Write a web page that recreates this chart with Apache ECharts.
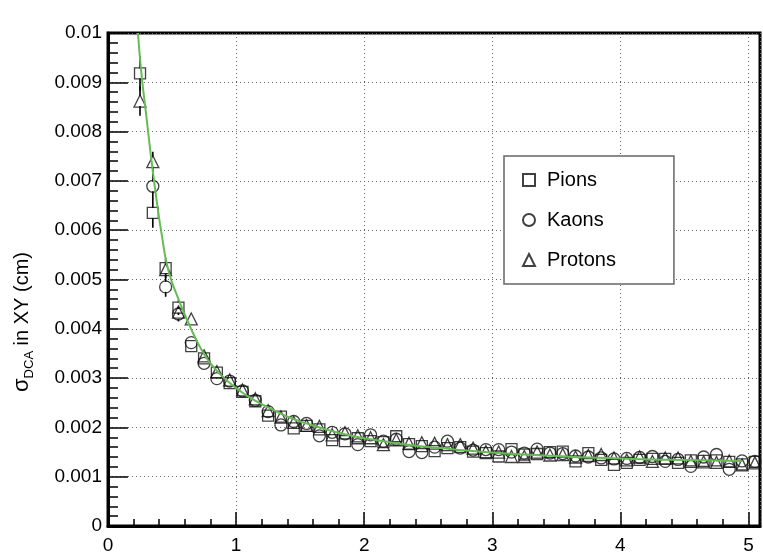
<!DOCTYPE html>
<html>
<head>
<meta charset="utf-8">
<script src="https://cdn.jsdelivr.net/npm/echarts@6/dist/echarts.min.js"></script>
<style>
  html, body { margin: 0; padding: 0; background: #fff; }
  #chart { width: 763px; height: 555px; }
</style>
</head>
<body>
<div id="chart"></div>
<script>
// momentum bins (GeV/c)
const pBins = [0.25, 0.35, 0.45, 0.55, 0.65, 0.75, 0.85, 0.95, 1.05, 1.15,
  1.25, 1.35, 1.45, 1.55, 1.65, 1.75, 1.85, 1.95, 2.05, 2.15,
  2.25, 2.35, 2.45, 2.55, 2.65, 2.75, 2.85, 2.95, 3.05, 3.15,
  3.25, 3.35, 3.45, 3.55, 3.65, 3.75, 3.85, 3.95, 4.05, 4.15,
  4.25, 4.35, 4.45, 4.55, 4.65, 4.75, 4.85, 4.95, 5.05];

const pions = [0.00918, 0.00635, 0.00523, 0.00443, 0.00365, 0.00340, 0.00311, 0.00290, 0.00272, 0.00253,
  0.00224, 0.00222, 0.00198, 0.00203, 0.00196, 0.00174, 0.00172, 0.00178, 0.00172, 0.00170,
  0.00182, 0.00166, 0.00162, 0.00152, 0.00158, 0.00160, 0.00151, 0.00148, 0.00141, 0.00156,
  0.00145, 0.00146, 0.00150, 0.00151, 0.00131, 0.00148, 0.00134, 0.00124, 0.00128, 0.00134,
  0.00136, 0.00136, 0.00128, 0.00133, 0.00132, 0.00133, 0.00130, 0.00125, 0.00130];

const kaons = [null, 0.00689, 0.00485, 0.00430, 0.00372, 0.00330, 0.00299, 0.00294, 0.00274, 0.00255,
  0.00232, 0.00205, 0.00212, 0.00208, 0.00183, 0.00190, 0.00187, 0.00165, 0.00185, 0.00172,
  0.00176, 0.00151, 0.00149, 0.00160, 0.00172, 0.00158, 0.00154, 0.00155, 0.00155, 0.00150,
  0.00148, 0.00156, 0.00148, 0.00147, 0.00142, 0.00140, 0.00138, 0.00136, 0.00137, 0.00139,
  0.00141, 0.00131, 0.00135, 0.00121, 0.00140, 0.00145, 0.00115, 0.00132, 0.00131];

const protons = [0.00862, 0.00739, 0.00520, 0.00434, 0.00420, 0.00345, 0.00313, 0.00296, 0.00276, 0.00258,
  0.00234, 0.00221, 0.00210, 0.00204, 0.00202, 0.00185, 0.00189, 0.00183, 0.00179, 0.00165,
  0.00175, 0.00168, 0.00169, 0.00168, 0.00165, 0.00165, 0.00158, 0.00151, 0.00150, 0.00141,
  0.00141, 0.00150, 0.00144, 0.00145, 0.00140, 0.00143, 0.00145, 0.00138, 0.00134, 0.00140,
  0.00131, 0.00138, 0.00138, 0.00131, 0.00130, 0.00129, 0.00132, 0.00124, 0.00128];

// errors only visible for the first bins
const pionErr = [0.00035, 0.0003, 0.0002, 0.00015, 0.0001];
const kaonErr = [0, 0.00025, 0.0002, 0.00015, 0.0001];
const protonErr = [0.0003, 0.0002, 0.00015, 0.0001];

// fit curve
const fitX = [0.234, 0.26, 0.30, 0.34, 0.38, 0.42, 0.47, 0.55, 0.64, 0.72, 0.80, 0.90, 1.00, 1.10, 1.20,
  1.30, 1.40, 1.50, 1.60, 1.70, 1.80, 1.90, 2.00, 2.20, 2.40, 2.60, 2.80, 3.00, 3.25, 3.50,
  3.75, 4.00, 4.25, 4.50, 4.75, 4.95];
const fitY = [0.0100, 0.0092, 0.0083, 0.0074, 0.0066, 0.0059, 0.0052, 0.0046, 0.00405, 0.00362, 0.00330, 0.00302, 0.00280, 0.00262, 0.00247,
  0.00234, 0.00222, 0.00212, 0.00204, 0.00196, 0.00189, 0.00183, 0.00178, 0.00170, 0.00163, 0.00158, 0.00153, 0.00149, 0.00145, 0.00142,
  0.00139, 0.00137, 0.00135, 0.00134, 0.00133, 0.00132];

const xTicks = [0, 1, 2, 3, 4, 5];
const FONT = "'Liberation Sans', Arial, Helvetica, sans-serif";

function pairs(vals) {
  const out = [];
  vals.forEach((v, i) => { if (v != null) out.push([pBins[i], v]); });
  return out;
}
function errData(vals, errs) {
  const out = [];
  errs.forEach((e, i) => { if (e > 0 && vals[i] != null) out.push([pBins[i], vals[i], e]); });
  return out;
}

function errorBars(data) {
  return {
    type: "custom",
    silent: true,
    z: 3,
    data: data,
    renderItem: (params, api) => {
      const x = api.value(0), y = api.value(1), e = api.value(2);
      const c = api.coord([x, y]);
      const top = api.coord([x, y + e]);
      const bot = api.coord([x, y - e]);
      const h = 5;
      const kids = [];
      if (c[1] - top[1] > h) {
        kids.push({ type: "line", shape: { x1: c[0], y1: top[1], x2: c[0], y2: c[1] - h },
          style: { stroke: "#000", lineWidth: 1.6 } });
      }
      if (bot[1] - c[1] > h) {
        kids.push({ type: "line", shape: { x1: c[0], y1: c[1] + h, x2: c[0], y2: bot[1] },
          style: { stroke: "#000", lineWidth: 1.6 } });
      }
      return { type: "group", children: kids };
    },
  };
}

const markerStyle = { color: "rgba(0,0,0,0)", borderColor: "#111", borderWidth: 1.3 };
const tickLine = { color: "#000", width: 1.5 };

const chart = echarts.init(document.getElementById("chart"));
chart.setOption({
  animation: false,
  backgroundColor: "#fff",
  textStyle: { fontFamily: FONT },
  grid: {
    left: 108, right: 2, top: 33, bottom: 29,
    show: true, borderColor: "#000", borderWidth: 3,
  },
  xAxis: {
    type: "value",
    min: 0,
    max: 5.09,
    interval: 1,
    axisLine: { show: true, lineStyle: { color: "#000", width: 3 } },
    axisTick: { show: true, inside: true, length: 14, lineStyle: tickLine },
    minorTick: { show: true, splitNumber: 5, length: 7, lineStyle: tickLine },
    splitLine: { show: true, lineStyle: { color: "#666", width: 1, type: [1, 3] } },
    axisLabel: {
      color: "#000", fontSize: 19, fontFamily: FONT, margin: 10,
      formatter: (v) => (xTicks.indexOf(v) >= 0 ? String(v) : ""),
    },
  },
  yAxis: {
    type: "value",
    min: 0,
    max: 0.01,
    interval: 0.001,
    axisLine: { show: true, lineStyle: { color: "#000", width: 3 } },
    axisTick: { show: true, inside: true, length: 20, lineStyle: tickLine },
    minorTick: { show: true, splitNumber: 5, length: 10, lineStyle: tickLine },
    splitLine: { show: true, lineStyle: { color: "#666", width: 1, type: [1, 3] } },
    axisLabel: {
      color: "#000", fontSize: 19, fontFamily: FONT, margin: 6,
      formatter: (v) => (v === 0 ? "0" : String(+v.toFixed(3))),
    },
  },
  legend: {
    orient: "vertical",
    left: 504,
    top: 156,
    backgroundColor: "#fff",
    borderColor: "#666",
    borderWidth: 1.5,
    padding: [14, 58, 14, 18],
    itemWidth: 12,
    itemHeight: 12,
    itemGap: 20,
    textStyle: { fontSize: 20, color: "#000", fontFamily: FONT, padding: [0, 0, 0, 7] },
    data: [
      { name: "Pions", icon: "rect" },
      { name: "Kaons", icon: "circle" },
      { name: "Protons", icon: "triangle" },
    ],
  },
  graphic: [
    {
      type: "text",
      x: 22,
      y: 322,
      rotation: Math.PI / 2,
      style: {
        text: "{s|σ}{d|DCA}{n| in XY (cm)}",
        align: "center",
        verticalAlign: "middle",
        fill: "#000",
        rich: {
          s: { fontSize: 22, fontFamily: FONT, lineHeight: 28, verticalAlign: "middle" },
          d: { fontSize: 13, fontFamily: FONT, lineHeight: 28, verticalAlign: "bottom" },
          n: { fontSize: 20, fontFamily: FONT, lineHeight: 28, verticalAlign: "middle" },
        },
      },
    },
  ],
  series: [
    errorBars(errData(pions, pionErr)),
    errorBars(errData(kaons, kaonErr)),
    errorBars(errData(protons, protonErr)),
    {
      name: "Pions", type: "scatter", symbol: "rect", symbolSize: 11, z: 4,
      itemStyle: markerStyle, data: pairs(pions),
    },
    {
      name: "Kaons", type: "scatter", symbol: "circle", symbolSize: 12, z: 4,
      itemStyle: markerStyle, data: pairs(kaons),
    },
    {
      name: "Protons", type: "scatter", symbol: "triangle", symbolSize: 12, z: 4,
      itemStyle: markerStyle, data: pairs(protons),
    },
    {
      name: "fit", type: "line", smooth: true, showSymbol: false, silent: true, z: 5,
      lineStyle: { color: "#66bb55", width: 2 },
      data: fitX.map((x, i) => [x, fitY[i]]),
    },
  ],
});
</script>
</body>
</html>
